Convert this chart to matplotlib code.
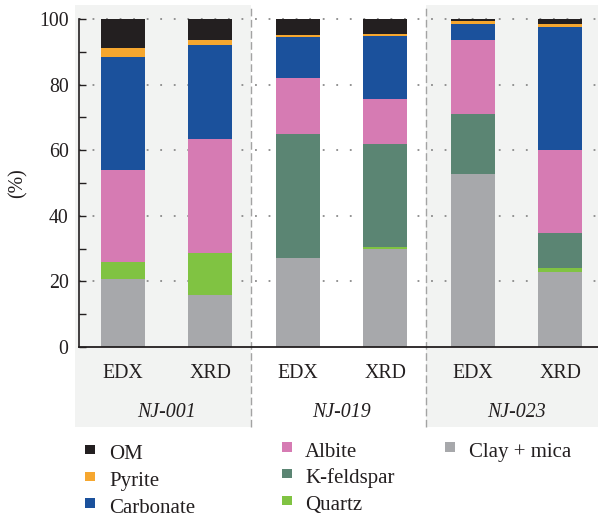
import matplotlib
matplotlib.use("Agg")
import matplotlib.pyplot as plt
import matplotlib.transforms as mtransforms
from matplotlib.patches import Rectangle
import numpy as np

plt.rcParams["font.family"] = ["Liberation Serif", "DejaVu Serif"]

# ---- data -------------------------------------------------------------
samples = ["NJ-001", "NJ-019", "NJ-023"]
methods = ["EDX", "XRD"]
bar_labels = ["EDX", "XRD", "EDX", "XRD", "EDX", "XRD"]

# stacked bottom -> top
components = ["Clay + mica", "Quartz", "K-feldspar", "Albite", "Carbonate", "Pyrite", "OM"]
clay_mica = [20.6, 15.8, 27.0, 29.9, 52.8, 23.0]
quartz = [5.2, 12.8, 0.0, 0.7, 0.0, 1.2]
k_feldspar = [0.0, 0.0, 38.0, 31.4, 18.3, 10.7]
albite = [28.3, 34.7, 17.0, 13.7, 22.5, 25.3]
carbonate = [34.3, 28.8, 12.5, 19.1, 4.9, 37.4]
pyrite = [2.8, 1.6, 0.7, 0.7, 0.9, 0.9]
om = [8.8, 6.3, 4.8, 4.5, 0.6, 1.5]

colors = {
    "OM": "#231f20",
    "Pyrite": "#f6a72f",
    "Carbonate": "#1b519c",
    "Albite": "#d67bb3",
    "K-feldspar": "#5b8573",
    "Quartz": "#80c342",
    "Clay + mica": "#a7a8ab",
}
series = [clay_mica, quartz, k_feldspar, albite, carbonate, pyrite, om]

yticks = [0, 20, 40, 60, 80, 100]

# ---- figure -----------------------------------------------------------
W, H = 598, 517
fig = plt.figure(figsize=(W / 100, H / 100), dpi=100)
ax_l, ax_r, ax_t, ax_b = 79, 598, 5, 347
ax = fig.add_axes([ax_l / W, (H - ax_b) / H, (ax_r - ax_l) / W, (ax_b - ax_t) / H])
ax.patch.set_visible(False)

px_per_unit = (ax_b - 19) / 100.0
ax.set_ylim(0, (ax_b - ax_t) / px_per_unit)
spacing = 87.4
x0_px = 123
ax.set_xlim((ax_l - x0_px) / spacing, (ax_r - x0_px) / spacing)
x = np.arange(len(bar_labels))

trans = mtransforms.blended_transform_factory(ax.transData, ax.transAxes)
shade_bottom = (ax_b - 427) / (ax_b - ax_t)
shade = "#f2f3f2"
div1, div2 = 1.46, 3.47
left_ext = (75 - x0_px) / spacing
for xa, xb in [(left_ext, div1), (div2, 6.0)]:
    ax.add_patch(Rectangle((xa, shade_bottom), xb - xa, 1 - shade_bottom,
                           transform=trans, facecolor=shade, edgecolor="none",
                           clip_on=False, zorder=0))
for xd in (div1, div2):
    ax.plot([xd, xd], [shade_bottom, 1.0], transform=trans, color="#a3a3a3",
            lw=1.0, ls=(0, (5.5, 2.5)), clip_on=False, zorder=1)

# dotted grid
for yv in yticks[1:]:
    ax.axhline(yv, color="#8a8a8a", lw=1.3, ls=(0, (1.0, 6.5)), zorder=1)

bottom = np.zeros(len(x))
for name, vals in zip(components, series):
    vals = np.array(vals)
    ax.bar(x, vals, width=0.503, bottom=bottom, color=colors[name],
           edgecolor="none", zorder=3)
    bottom += vals

# axes styling
for s in ("top", "right"):
    ax.spines[s].set_visible(False)
ax.spines["left"].set_bounds(0, 100)
ax.spines["left"].set_color("#231f20")
ax.spines["left"].set_linewidth(1.2)
ax.spines["bottom"].set_color("#231f20")
ax.spines["bottom"].set_linewidth(1.3)
ax.spines["bottom"].set_zorder(4)

ax.set_yticks(yticks)
ax.set_yticklabels([str(v) for v in yticks])
ax.set_yticks(np.arange(10, 100, 20), minor=True)
ax.tick_params(axis="y", which="both", direction="in", length=5, width=1.0,
               color="#231f20", labelsize=14.3, pad=7.5, labelcolor="#231f20")
ax.tick_params(axis="x", which="both", length=0, labelbottom=False)

ax.yaxis.set_zorder(5)

# category labels
for xi, lab in zip(x, bar_labels):
    ax.text(xi, (ax_b - 377.7) / (ax_b - ax_t), lab, transform=trans,
            ha="center", va="baseline", fontsize=14.3, color="#231f20")
for gi, sname in enumerate(samples):
    xc = (x[2 * gi] + x[2 * gi + 1]) / 2
    ax.text(xc, (ax_b - 417.3) / (ax_b - ax_t), sname, transform=trans,
            ha="center", va="baseline", fontsize=14.3, style="italic",
            color="#231f20")

fig.text(17.5 / W, (H - 183) / H, "(%)", rotation=90, ha="center", va="center",
         fontsize=14.3, color="#231f20")

# legend
legend_cols = [
    (["OM", "Pyrite", "Carbonate"], 85, 109, 459.3),
    (["Albite", "K-feldspar", "Quartz"], 282, 305, 456.7),
    (["Clay + mica"], 445, 469, 456.7),
]
row_step = 26.7
for names, mx, tx, base in legend_cols:
    for r, name in enumerate(names):
        yb = base + r * row_step
        fig.add_artist(Rectangle((mx / W, (H - (yb - 5)) / H), 10 / W, 9.5 / H,
                                 transform=fig.transFigure,
                                 facecolor=colors[name], edgecolor="none"))
        fig.text(tx / W, (H - yb) / H, name, ha="left", va="baseline",
                 fontsize=15, color="#231f20")

fig.savefig("out.png", dpi=100)
